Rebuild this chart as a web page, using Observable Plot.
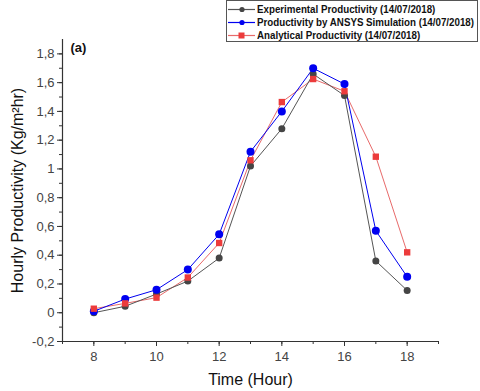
<!DOCTYPE html>
<html>
<head>
<meta charset="utf-8">
<script src="https://cdn.jsdelivr.net/npm/d3@7"></script>
<script src="https://cdn.jsdelivr.net/npm/@observablehq/plot@0.6"></script>
<style>
  body { margin: 0; background: #fff; }
  #wrap { position: relative; width: 480px; height: 391px; font-family: "Liberation Sans", Arial, sans-serif; }
  #legend { position: absolute; left: 226px; top: 0px; width: 252px; height: 42px; border: 1px solid #555; background: #fff; box-sizing: border-box; }
  .row { position: absolute; left: 1px; height: 13px; display: flex; align-items: center; font-weight: bold; font-size: 10px; color: #111; white-space: nowrap; }
  .row svg { margin-right: 2px; flex: none; }
  .row span { display: inline-block; transform-origin: left center; }
</style>
</head>
<body>
<div id="wrap"></div>
<script>
const hours = [8, 9, 10, 11, 12, 13, 14, 15, 16, 17, 18];
const experimental = [0.00, 0.045, 0.13, 0.22, 0.38, 1.02, 1.28, 1.66, 1.51, 0.36, 0.155];
const ansys = [0.01, 0.095, 0.16, 0.30, 0.545, 1.12, 1.40, 1.70, 1.59, 0.57, 0.25];
const analytical = [0.028, 0.065, 0.105, 0.245, 0.485, 1.06, 1.465, 1.625, 1.54, 1.085, 0.42];
const seriesNames = ["Experimental Productivity  (14/07/2018)", "Productivity by ANSYS Simulation (14/07/2018)", "Analytical Productivity (14/07/2018)"];
const yTicks = [-0.2, 0, 0.2, 0.4, 0.6, 0.8, 1, 1.2, 1.4, 1.6, 1.8];
const xTicks = [8, 10, 12, 14, 16, 18];

const toRows = (vals) => hours.map((h, i) => ({h, v: vals[i]}));
const expRows = toRows(experimental);
const ansRows = toRows(ansys);
const anaRows = toRows(analytical);

const fmt = d => String(+d.toFixed(1)).replace(".", ",");
const yMinor = d3.range(-2, 19).map(i => i / 10);
const xMinor = d3.range(7, 20);

const cGray = "#454545", cBlue = "#0000f0", cRed = "#ec3b3b";

const chart = Plot.plot({
  width: 480,
  height: 391,
  marginLeft: 62,
  marginRight: 42,
  marginTop: 39,
  marginBottom: 50,
  style: { fontFamily: "Liberation Sans, Arial, sans-serif", background: "#fff" },
  x: { domain: [7, 19] },
  y: { domain: [-0.2, 1.9] },
  marks: [
    Plot.axisY(yMinor, { tickSize: 3, text: null, stroke: "#333", label: null }),
    Plot.axisY(yTicks, { tickSize: 5, tickPadding: 3, tickFormat: fmt, fontSize: 13, fill: "#444", stroke: "#333", label: "Hourly Productivity (Kg/m²hr)", labelAnchor: "center", labelArrow: "none", labelOffset: 51 }),
    Plot.axisX(xMinor, { tickSize: 3, text: null, stroke: "#333", label: null }),
    Plot.axisX(xTicks, { tickSize: 5, tickPadding: 5, fontSize: 13, fill: "#444", stroke: "#333", label: "Time (Hour)", labelAnchor: "center", labelArrow: "none", labelOffset: 43 }),
    Plot.ruleX([7], { stroke: "#333", strokeWidth: 1.2 }),
    Plot.ruleY([-0.2], { stroke: "#333", strokeWidth: 1.2 }),
    Plot.line(anaRows, { x: "h", y: "v", stroke: "#e86a6a", strokeWidth: 1 }),
    Plot.line(expRows, { x: "h", y: "v", stroke: "#555", strokeWidth: 1 }),
    Plot.line(ansRows, { x: "h", y: "v", stroke: cBlue, strokeWidth: 1 }),
    Plot.dot(expRows, { x: "h", y: "v", r: 3.5, fill: cGray, symbol: "circle" }),
    Plot.dot(ansRows, { x: "h", y: "v", r: 4, fill: cBlue, symbol: "circle" }),
    Plot.dot(anaRows, { x: "h", y: "v", r: 3.6, fill: cRed, symbol: "square" }),
    Plot.text(["(a)"], { frameAnchor: "top-left", dx: 8, dy: 3, text: d => d, fontWeight: "bold", fontSize: 13, fill: "#111", textAnchor: "start", lineAnchor: "top" })
  ]
});

chart.querySelectorAll("[aria-label='y-axis label'] text, [aria-label='x-axis label'] text").forEach(t => { t.style.fontSize = "16px"; t.setAttribute("fill", "#111"); });

const wrap = document.getElementById("wrap");
wrap.appendChild(chart);

const legend = document.createElement("div");
legend.id = "legend";
const legendStyles = [
  { line: "#555", fill: cGray, shape: "circle" },
  { line: cBlue, fill: cBlue, shape: "circle" },
  { line: "#e86a6a", fill: cRed, shape: "square" }
];
const spans = [];
seriesNames.forEach((name, i) => {
  const row = document.createElement("div");
  row.className = "row";
  row.style.top = (2 + i * 13) + "px";
  const s = legendStyles[i];
  const marker = s.shape === "circle"
    ? `<circle cx="14" cy="6.5" r="2.6" fill="${s.fill}"/>`
    : `<rect x="10.5" y="3.5" width="6" height="6" fill="${s.fill}"/>`;
  row.innerHTML = `<svg width="27" height="13"><line x1="0" x2="27" y1="6.5" y2="6.5" stroke="${s.line}" stroke-width="1.2"/>${marker}</svg><span>${name}</span>`;
  legend.appendChild(row);
  spans.push(row.querySelector("span"));
});
wrap.appendChild(legend);
const avail = 252 - 2 - 29 - 4;
const maxW = Math.max(...spans.map(s => s.getBoundingClientRect().width));
if (maxW > avail) spans.forEach(s => { s.style.transform = `scaleX(${avail / maxW})`; });
</script>
</body>
</html>
